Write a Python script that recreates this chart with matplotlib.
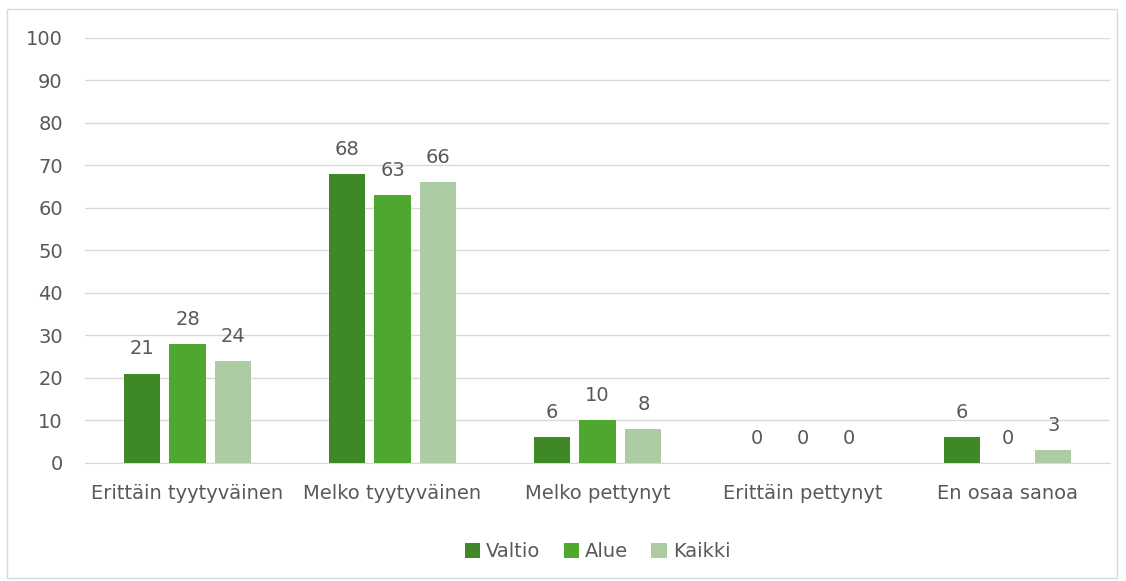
import matplotlib.pyplot as plt
import numpy as np
from matplotlib.patches import Rectangle

categories = ["Erittäin tyytyväinen", "Melko tyytyväinen", "Melko pettynyt",
              "Erittäin pettynyt", "En osaa sanoa"]
valtio = [21, 68, 6, 0, 6]
alue = [28, 63, 10, 0, 0]
kaikki = [24, 66, 8, 0, 3]

series = [("Valtio", valtio, "#3E8827"),
          ("Alue", alue, "#4EA72E"),
          ("Kaikki", kaikki, "#ADCCA4")]

textColor = "#595959"
gridColor = "#D9D9D9"
fontSize = 14

fig = plt.figure(figsize=(11.26, 5.81), dpi=100)
ax = fig.add_axes([0.0755, 0.2031, 0.9103, 0.7315])

# chart border
fig.patches.append(Rectangle((7 / 1126, 3 / 581), 1110 / 1126, 569 / 581,
                             transform=fig.transFigure, fill=False,
                             edgecolor=gridColor, linewidth=1))

x = np.arange(len(categories))
barWidth = 0.176
step = 0.224

for i, (name, vals, color) in enumerate(series):
    offset = (i - 1) * step
    bars = ax.bar(x + offset, vals, barWidth, color=color, label=name, zorder=3)
    for b, v in zip(bars, vals):
        ax.annotate(str(v), (b.get_x() + b.get_width() / 2, v),
                    xytext=(0, 11), textcoords="offset points",
                    ha="center", va="bottom", fontsize=fontSize, color=textColor)

ax.set_xlim(-0.5, len(categories) - 0.5)
ax.set_ylim(0, 100)
ax.set_yticks(range(0, 101, 10))
ax.set_xticks(x)
ax.set_xticklabels(categories)
ax.tick_params(axis="both", length=0, labelsize=fontSize, labelcolor=textColor)
ax.tick_params(axis="x", pad=15)
ax.tick_params(axis="y", pad=16)
ax.grid(axis="y", color=gridColor, linewidth=1, zorder=0)
for s in ["top", "right", "left"]:
    ax.spines[s].set_visible(False)
ax.spines["bottom"].set_color(gridColor)

leg = ax.legend(loc="upper center", bbox_to_anchor=(0.5, -0.145), ncol=3,
                frameon=False, fontsize=fontSize, handlelength=0.8, handleheight=0.8,
                handletextpad=0.3, columnspacing=1.2)
for t in leg.get_texts():
    t.set_color(textColor)

fig.savefig("out.png", dpi=100)
